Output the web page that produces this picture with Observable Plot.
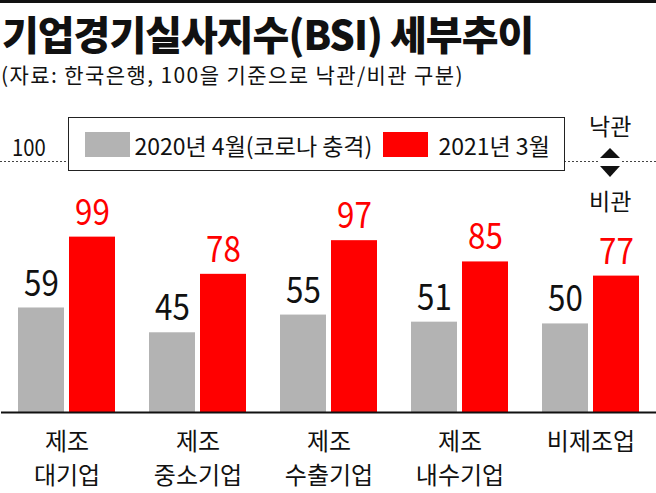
<!DOCTYPE html>
<html><head><meta charset="utf-8">
<script src="https://cdn.jsdelivr.net/npm/d3@7"></script>
<script src="https://cdn.jsdelivr.net/npm/@observablehq/plot@0.6"></script>
<style>
body{margin:0;background:#fff;}
#wrap{position:relative;width:656px;height:493px;overflow:hidden;font-family:"Noto Sans CJK KR",sans-serif;color:#111;background:#fff;}
.abs{position:absolute;white-space:nowrap;}
#chart{position:absolute;left:0;top:100px;}
#topbar{left:0;top:0;width:656px;height:3px;background:#111;}
#title{left:2px;top:13px;font-size:40px;line-height:40px;font-weight:900;letter-spacing:-1px;}
#subtitle{left:1px;top:64px;font-size:21px;line-height:21px;letter-spacing:1.4px;}
#ref{left:12px;top:135px;font-size:23px;line-height:23px;transform:scaleX(0.88);transform-origin:0 0;}
#legend{left:68px;top:117px;width:497px;height:54px;box-sizing:border-box;border:1.5px solid #222;background:#fff;}
.sw{position:absolute;width:45px;height:25px;top:14px;}
.lt{position:absolute;font-size:23px;line-height:23px;top:16px;white-space:nowrap;}
.side{font-size:23px;line-height:23px;}
#deco{position:absolute;left:0;top:0;}
</style>
</head><body>
<div id="wrap">
  <div id="chart"></div>
  <svg id="deco" width="656" height="493"></svg>
  <div class="abs" id="topbar"></div>
  <div class="abs" id="title"></div>
  <div class="abs" id="subtitle"></div>
  <div class="abs" id="ref"></div>
  <div class="abs" id="legend"></div>
  <div class="abs side" id="up" style="left:589px;top:114px;"></div>
  <div class="abs side" id="down" style="left:589px;top:189px;"></div>
</div>
<script>
// ---- data ----
const categories = ["제조\n대기업", "제조\n중소기업", "제조\n수출기업", "제조\n내수기업", "비제조업"];
const seriesNames = ["2020년 4월(코로나 충격)", "2021년 3월"];
const values2020 = [59, 45, 55, 51, 50];
const values2021 = [99, 78, 97, 85, 77];
const seriesColors = ["#b3b3b3", "#ff0000"];
const labelColors = ["#111111", "#ff0000"];
const referenceValues = [100];
const sideLabels = ["낙관", "비관"];
const titleText = "기업경기실사지수(BSI) 세부추이";
const subtitleText = "(자료: 한국은행, 100을 기준으로 낙관/비관 구분)";

// ---- table ----
const rows = [];
categories.forEach((c, i) => {
  rows.push({category: c, series: seriesNames[0], value: values2020[i]});
  rows.push({category: c, series: seriesNames[1], value: values2021[i]});
});

const font = '"Noto Sans CJK KR",sans-serif';

const chart = Plot.plot({
  width: 656,
  height: 393,
  marginTop: 64,
  marginBottom: 81,
  marginLeft: 1,
  marginRight: 0,
  facet: {data: rows, x: "category"},
  fx: {domain: categories, padding: 0, axis: null},
  x: {domain: seriesNames, paddingInner: 0.096, paddingOuter: 0.3077, axis: null},
  y: {domain: [0, 140], axis: null},
  color: {domain: seriesNames, range: seriesColors},
  style: {fontFamily: font, background: "transparent", color: "#111"},
  marks: [
    Plot.barY(rows, {x: "series", y: "value", fill: "series"}),
    Plot.ruleY([0], {stroke: "#111", strokeWidth: 2}),
    Plot.text(rows, {filter: d => d.series === seriesNames[0], x: "series", y: "value", text: d => String(d.value), dy: -24, fontSize: 36, fill: labelColors[0]}),
    Plot.text(rows, {filter: d => d.series === seriesNames[1], x: "series", y: "value", text: d => String(d.value), dy: -24, fontSize: 36, fill: labelColors[1]}),
    Plot.text(rows, {filter: d => d.series === seriesNames[0], frameAnchor: "bottom", text: "category", lineAnchor: "top", dy: 13, fontSize: 24, lineHeight: 1.42, fill: "#111"})
  ]
});
document.getElementById("chart").appendChild(chart);

// condense the numeric value labels horizontally (reference uses a narrow face)
chart.querySelectorAll("text").forEach(t => {
  if (!/^\d+$/.test(t.textContent)) return;
  const tr = t.getAttribute("transform");
  if (tr) {
    t.setAttribute("transform", tr + " scale(0.87,1)");
  } else {
    const x = +t.getAttribute("x") || 0, y = +t.getAttribute("y") || 0;
    t.setAttribute("transform", `translate(${x},${y}) scale(0.87,1) translate(${-x},${-y})`);
  }
});

// ---- surrounding text / legend ----
document.getElementById("title").textContent = titleText;
document.getElementById("subtitle").textContent = subtitleText;
document.getElementById("ref").textContent = String(referenceValues[0]);
document.getElementById("up").textContent = sideLabels[0];
document.getElementById("down").textContent = sideLabels[1];

const legend = document.getElementById("legend");
const swLeft = [15.5, 313.5];
const txtLeft = [65.5, 369.5];
seriesNames.forEach((s, i) => {
  const sw = document.createElement("div");
  sw.className = "sw";
  sw.style.left = swLeft[i] + "px";
  sw.style.background = seriesColors[i];
  legend.appendChild(sw);
  const t = document.createElement("div");
  t.className = "lt";
  t.style.left = txtLeft[i] + "px";
  t.textContent = s;
  legend.appendChild(t);
});

// dotted reference line and arrows
const deco = d3.select("#deco");
[[0, 598], [622, 656]].forEach(([a, b]) => {
  deco.append("line").attr("x1", a).attr("x2", b).attr("y1", 161.5).attr("y2", 161.5)
    .attr("stroke", "#444").attr("stroke-width", 1).attr("stroke-dasharray", "2,2");
});
deco.append("path").attr("d", "M600,158L610,148L620,158Z").attr("fill", "#111");
deco.append("path").attr("d", "M600,166L610,177L620,166Z").attr("fill", "#111");
</script>
</body></html>
